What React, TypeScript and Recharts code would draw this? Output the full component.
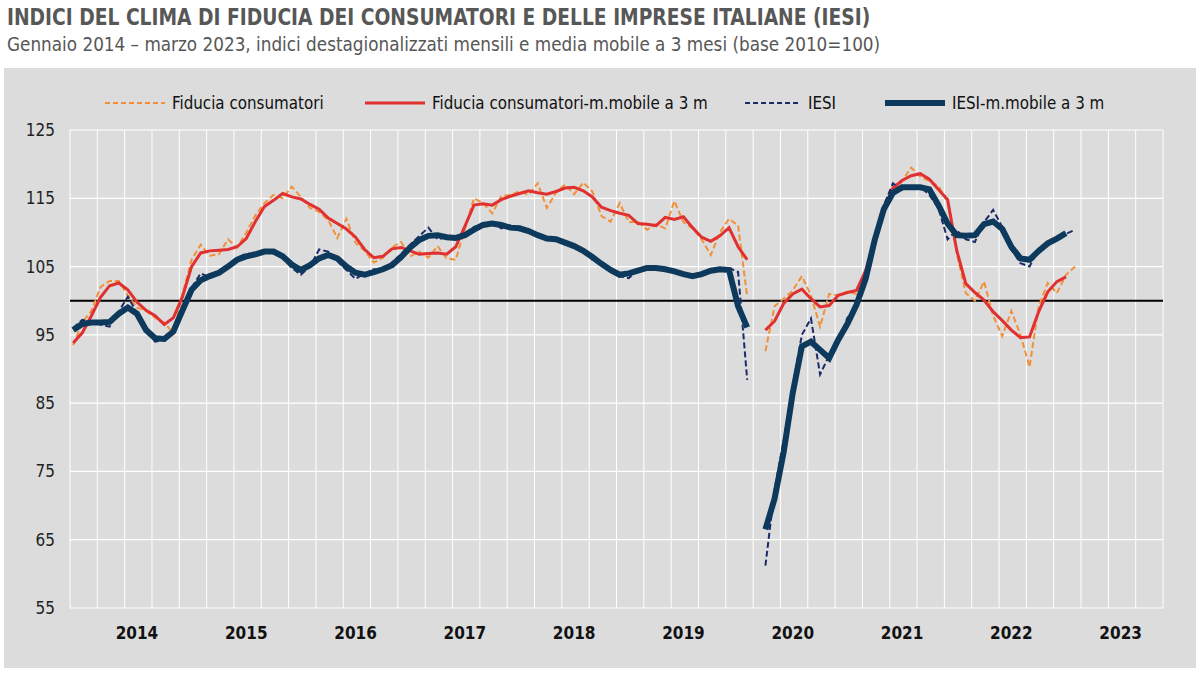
import { CartesianGrid, Line, LineChart, ReferenceLine, XAxis, YAxis } from "recharts";

const FONT = '"Liberation Sans Narrow", "DejaVu Sans Condensed", "Arial Narrow", sans-serif';

const ORANGE = "#f0913a";
const RED = "#e0302f";
const NAVY_DASH = "#1b2a6b";
const NAVY = "#0d3a5c";

// Gen 2014 .. Mar 2023, one value per month (index 0 = Jan 2014); Apr 2020 not surveyed
const YEARS = [2014, 2015, 2016, 2017, 2018, 2019, 2020, 2021, 2022, 2023];
const Y_TICKS = [55, 65, 75, 85, 95, 105, 115, 125];

const CONSUMER: (number | null)[] = [
  93.5, 96.8, 98.5, 102.0, 102.9, 102.9, 100.8, 99.0, 98.5, 97.5, 96.8, 95.2,
  101.0, 106.0, 108.2, 106.6, 106.8, 109.0, 107.8, 110.0, 112.5, 114.3, 115.5, 115.0,
  116.7, 115.2, 113.6, 113.0, 111.8, 109.2, 112.0, 108.5, 107.3, 105.6, 106.3, 107.8,
  108.6, 106.5, 107.2, 106.3, 108.0, 106.2, 106.0, 110.5, 115.0, 114.3, 112.8, 115.3,
  115.5, 116.0, 115.5, 117.2, 113.6, 115.8, 117.0, 115.6, 117.3, 116.0, 112.4, 111.6,
  114.3, 111.5, 111.6, 110.4, 111.2, 110.6, 114.6, 111.5, 110.6, 109.0, 106.7, 110.0,
  112.0, 111.0, 100.6, null, 92.6, 99.2, 100.3, 101.5, 103.6, 100.8, 96.2, 101.0,
  100.8, 101.3, 101.0, 103.0, 109.5, 114.0, 116.0, 117.5, 119.5, 118.2, 117.5, 116.8,
  114.5, 107.0, 101.1, 100.0, 102.8, 97.8, 94.8, 98.5, 95.0, 90.3, 99.2, 102.6,
  101.1, 103.8, 105.0,
];

const CONSUMER_MA: (number | null)[] = [
  93.8, 95.3, 97.8, 100.5, 102.2, 102.6, 101.6, 99.8, 98.6, 97.8, 96.5, 97.5,
  100.6, 105.0, 107.0, 107.3, 107.4, 107.5, 107.9, 109.1, 111.6, 113.8, 114.7, 115.7,
  115.2, 114.9, 114.1, 113.4, 112.1, 111.3, 110.5, 109.3, 107.5, 106.3, 106.5, 107.6,
  107.8, 107.3, 106.8, 106.9, 107.0, 106.8, 107.9, 110.9, 114.0, 114.2, 114.0, 114.8,
  115.3, 115.7, 116.1, 115.8, 115.6, 116.0, 116.5, 116.6, 116.1, 115.2, 113.7, 113.2,
  112.8, 112.5, 111.3, 111.2, 111.0, 112.2, 111.9, 112.3, 110.7, 109.3, 108.7, 109.5,
  110.7, 107.9, 106.0, null, 95.7, 97.0, 99.6, 101.0, 101.7, 100.3, 99.1, 99.3,
  100.8, 101.2, 101.5, 104.4, 108.9, 113.5, 116.5, 117.6, 118.3, 118.6, 117.8, 116.3,
  114.8, 107.4, 102.5, 101.2, 100.1, 98.4, 97.1, 95.7, 94.6, 94.7, 98.4, 101.3,
  102.8, 103.5, null,
];

const IESI: (number | null)[] = [
  96.0, 97.2, 96.9, 96.5, 96.2, 98.4, 100.6, 98.2, 95.6, 94.0, 94.3, 95.4,
  98.8, 101.9, 104.0, 103.4, 104.2, 105.3, 106.3, 106.9, 106.8, 107.5, 106.9, 106.4,
  104.8, 103.8, 105.0, 107.5, 107.2, 105.8, 104.5, 103.2, 104.0, 104.6, 104.5, 105.6,
  106.8, 108.2, 109.5, 110.7, 109.0, 109.3, 109.3, 109.8, 110.8, 111.2, 111.5, 110.6,
  111.0, 110.3, 110.0, 109.4, 109.2, 108.8, 108.6, 107.8, 107.5, 106.0, 105.2, 104.2,
  103.6, 103.3, 104.6, 104.9, 104.7, 104.5, 104.3, 103.9, 103.5, 103.8, 104.4, 104.5,
  104.8, 104.2, 88.4, null, 61.2, 72.3, 79.5, 87.5, 95.0, 97.4, 89.2, 92.0,
  94.0, 97.5, 99.0, 102.5, 108.0, 114.0, 117.2, 116.2, 116.6, 116.7, 115.5, 113.5,
  109.0, 110.3, 109.0, 108.6, 111.5, 113.3, 110.8, 107.5, 105.5, 105.0, 107.6, 108.3,
  109.2, 109.8, 110.4,
];

const IESI_MA: (number | null)[] = [
  95.7, 96.6, 96.8, 96.8, 96.9, 98.1, 99.0, 98.1, 95.7, 94.5, 94.4, 95.5,
  98.6, 101.6, 103.0, 103.6, 104.1, 105.0, 106.0, 106.5, 106.8, 107.2, 107.2, 106.5,
  105.3, 104.5, 105.2, 106.2, 106.7, 106.2, 105.0, 104.1, 103.8, 104.2, 104.6, 105.2,
  106.4, 107.8, 108.9, 109.5, 109.6, 109.3, 109.2, 109.6, 110.4, 111.1, 111.3, 111.1,
  110.7, 110.6, 110.2, 109.6, 109.1, 109.0, 108.5, 108.0, 107.3, 106.4, 105.4, 104.5,
  103.8, 104.0, 104.4, 104.8, 104.8, 104.6, 104.3, 103.9, 103.6, 103.9, 104.4, 104.6,
  104.5, 99.2, 96.1, null, 66.5, 71.0, 77.8, 86.5, 93.3, 94.0, 92.8, 91.6,
  94.3, 96.6, 99.4, 103.2, 108.9, 113.4, 115.8, 116.6, 116.6, 116.6, 116.3, 114.0,
  111.3, 109.6, 109.5, 109.6, 111.2, 111.6, 110.5, 107.9, 106.2, 106.0, 107.3, 108.4,
  109.1, 109.9, null,
];

const rows = CONSUMER.map((v, i) => ({
  t: i,
  cons: v,
  consMa: CONSUMER_MA[i] ?? null,
  iesi: IESI[i] ?? null,
  iesiMa: IESI_MA[i] ?? null,
}));

// x domain spans the whole years 2014-2023 (120 months)
const X_DOMAIN: [number, number] = [-0.35, 119.65];
const yearTicks = YEARS.map((_, k) => 12 * k + 7);
const quarterLines: number[] = [];
for (let q = 0; q <= 40; q++) quarterLines.push(X_DOMAIN[0] + q * 3);

const LEGEND = [
  { label: "Fiducia consumatori", color: ORANGE, width: 2, dash: "5 3", left: 101, len: 60 },
  { label: "Fiducia consumatori-m.mobile a 3 m", color: RED, width: 3, dash: undefined, left: 361, len: 60 },
  { label: "IESI", color: NAVY_DASH, width: 2, dash: "5 3", left: 741, len: 56 },
  { label: "IESI-m.mobile a 3 m", color: NAVY, width: 6, dash: undefined, left: 881, len: 60 },
];

export default function App() {
  return (
    <div style={{ position: "absolute", left: 0, top: 0, width: 1200, height: 675, background: "#fff", fontFamily: FONT }}>
      <div style={{ position: "absolute", left: 7, top: 4, fontSize: 23, fontWeight: 700, color: "#575757", whiteSpace: "nowrap", transform: "scaleX(0.903)", transformOrigin: "left top" }}>
        INDICI DEL CLIMA DI FIDUCIA DEI CONSUMATORI E DELLE IMPRESE ITALIANE (IESI)
      </div>
      <div style={{ position: "absolute", left: 7, top: 33, fontSize: 19.5, color: "#575757", whiteSpace: "nowrap", transform: "scaleX(0.96)", transformOrigin: "left top" }}>
        Gennaio 2014 – marzo 2023, indici destagionalizzati mensili e media mobile a 3 mesi (base 2010=100)
      </div>
      <div style={{ position: "absolute", left: 4, top: 68, width: 1192, height: 600, background: "#dcdcdc" }}>
        {LEGEND.map((item) => (
          <div key={item.label} style={{ position: "absolute", left: item.left, top: 24, height: 22, display: "flex", alignItems: "center", fontSize: 17.5, color: "#111", whiteSpace: "nowrap" }}>
            <svg width={item.len} height={10} style={{ marginRight: 7 }}>
              <line x1={0} x2={item.len} y1={5} y2={5} stroke={item.color} strokeWidth={item.width} strokeDasharray={item.dash} strokeLinecap={item.width > 4 ? "round" : "butt"} />
            </svg>
            <span style={{ display: "inline-block", transform: "scaleX(0.96)", transformOrigin: "left center" }}>{item.label}</span>
          </div>
        ))}
        <LineChart width={1192} height={600} data={rows} margin={{ top: 62, right: 33, bottom: 0, left: 0 }}>
          <CartesianGrid vertical={false} stroke="#ffffff" strokeWidth={1.2} />
          {quarterLines.map((q) => (
            <ReferenceLine key={q} x={q} stroke="#ffffff" strokeWidth={1} ifOverflow="extendDomain" />
          ))}
          <XAxis
            dataKey="t"
            type="number"
            domain={X_DOMAIN}
            ticks={yearTicks}
            tickFormatter={(v: number) => String(YEARS[Math.round((v - 7) / 12)])}
            axisLine={false}
            tickLine={false}
            tickSize={0}
            tickMargin={19}
            height={60}
            tick={{ fontSize: 17, fontWeight: 700, fill: "#111", fontFamily: FONT }}
            allowDataOverflow
          />
          <YAxis
            type="number"
            domain={[55, 125]}
            ticks={Y_TICKS}
            axisLine={false}
            tickLine={false}
            tickSize={0}
            tickMargin={15}
            width={66}
            tick={{ fontSize: 17, fill: "#222", fontFamily: FONT }}
            allowDataOverflow
          />
          <ReferenceLine y={100} stroke="#000" strokeWidth={2} />
          <Line dataKey="cons" stroke={ORANGE} strokeWidth={2} strokeDasharray="6 3" dot={false} isAnimationActive={false} />
          <Line dataKey="consMa" stroke={RED} strokeWidth={3} dot={false} isAnimationActive={false} />
          <Line dataKey="iesi" stroke={NAVY_DASH} strokeWidth={2} strokeDasharray="6 3" dot={false} isAnimationActive={false} />
          <Line dataKey="iesiMa" stroke={NAVY} strokeWidth={6} dot={false} isAnimationActive={false} />
        </LineChart>
      </div>
    </div>
  );
}
